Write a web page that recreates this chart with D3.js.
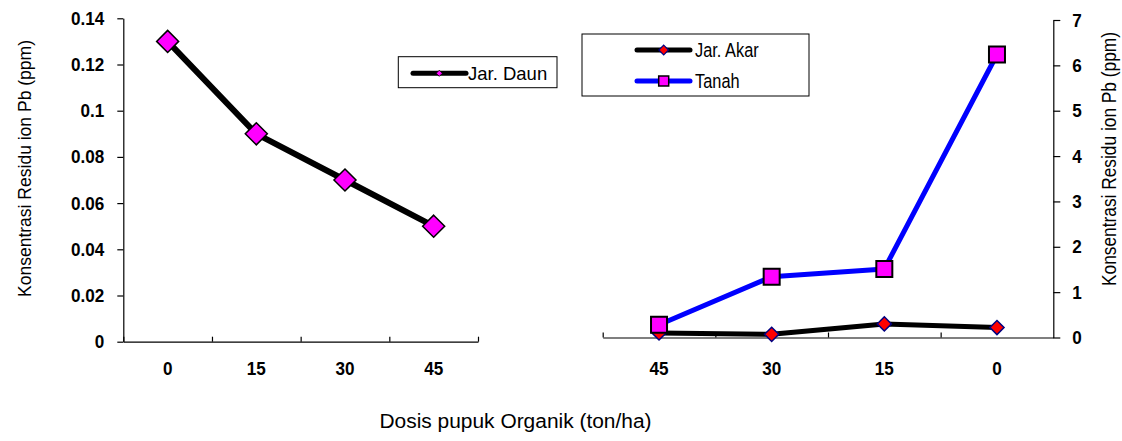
<!DOCTYPE html>
<html lang="en">
<head>
<meta charset="UTF-8">
<title>Residu ion Pb</title>
<script src="https://cdn.jsdelivr.net/npm/d3@7"></script>
<style>
    body { margin: 0; background: #fff; }
    svg text { fill: #000; }
    .tick-lbl text { font-family: "Liberation Sans", Arial, sans-serif; font-weight: bold; font-size: 19px; }
    .domain, .tick line { stroke: #000; stroke-width: 1.2; }
</style>
</head>
<body>
<div id="chart"></div>
<script>
    // data
    var dosisLeft = ["0", "15", "30", "45"];
    var jarDaun = [0.13, 0.09, 0.07, 0.05];

    var dosisRight = ["45", "30", "15", "0"];
    var jarAkar = [0.10, 0.07, 0.30, 0.22];
    var tanah = [0.28, 1.34, 1.51, 6.24];

    var ticksLeft = [0, 0.02, 0.04, 0.06, 0.08, 0.1, 0.12, 0.14];
    var ticksRight = [0, 1, 2, 3, 4, 5, 6, 7];

    var width = 1122, height = 441;
    var narrow = 0.9; // the original uses a condensed face; squeeze the labels
    var svg = d3.select("#chart").append("svg")
        .attr("width", width).attr("height", height);

    var diamond = d3.symbol().type(d3.symbolDiamond2);
    var square = d3.symbol().type(d3.symbolSquare);

    function squeeze(sel, x) {
        sel.selectAll(".tick text")
            .attr("x", x / narrow)
            .attr("transform", "scale(" + narrow + ",1)");
    }

    // ---------- left panel ----------
    var xL = d3.scaleBand().domain(dosisLeft).range([123.3, 478]);
    var yL = d3.scaleLinear().domain([0, 0.14]).range([341.7, 18.3]);

    var axL = svg.append("g").attr("transform", "translate(123.3,0)")
        .attr("class", "tick-lbl")
        .call(d3.axisLeft(yL).tickValues(ticksLeft).tickSize(6).tickSizeOuter(0).tickPadding(13)
            .tickFormat(function (d) { return d === 0 ? "0" : String(+d.toFixed(2)); }));
    squeeze(axL, -19);

    // band boundary ticks, pointing up
    svg.append("g").attr("transform", "translate(0,341.7)")
        .call(d3.axisTop(d3.scaleLinear().domain([0, 4]).range(xL.range()))
            .ticks(4).tickSize(5).tickSizeOuter(0).tickFormat(""));

    var lblL = svg.append("g").attr("class", "tick-lbl").attr("transform", "translate(0,341.7)")
        .call(d3.axisBottom(xL).tickSize(0).tickPadding(20));
    lblL.select(".domain").remove();
    squeeze(lblL, 0);

    var lineL = d3.line()
        .x(function (d, i) { return xL(dosisLeft[i]) + xL.bandwidth() / 2; })
        .y(function (d) { return yL(d); });

    svg.append("path").datum(jarDaun)
        .attr("d", lineL).attr("fill", "none")
        .attr("stroke", "#000").attr("stroke-width", 6).attr("stroke-linejoin", "round");

    svg.selectAll(".mk-daun").data(jarDaun).enter().append("path")
        .attr("class", "mk-daun")
        .attr("transform", function (d, i) { return "translate(" + (xL(dosisLeft[i]) + xL.bandwidth() / 2) + "," + yL(d) + ")"; })
        .attr("d", diamond.size(310))
        .attr("fill", "#ff00ff").attr("stroke", "#000").attr("stroke-width", 1.5);

    // left legend
    var legL = svg.append("g");
    legL.append("rect").attr("x", 398.3).attr("y", 56.7).attr("width", 158.7).attr("height", 31)
        .attr("fill", "#fff").attr("stroke", "#000").attr("stroke-width", 1);
    legL.append("line").attr("x1", 413).attr("x2", 466).attr("y1", 73.3).attr("y2", 73.3)
        .attr("stroke", "#000").attr("stroke-width", 5).attr("stroke-linecap", "round");
    legL.append("path").attr("transform", "translate(439.3,73.3)")
        .attr("d", diamond.size(24)).attr("fill", "#ff00ff").attr("stroke", "#000").attr("stroke-width", 0.8);
    legL.append("text").attr("x", 468).attr("y", 73.3).attr("dy", "0.36em")
        .style("font-family", "'Liberation Sans', Arial, sans-serif").style("font-size", "18.5px")
        .text("Jar. Daun");

    // ---------- right panel ----------
    var xR = d3.scaleBand().domain(dosisRight).range([602.7, 1053.3]);
    var yR = d3.scaleLinear().domain([0, 7]).range([337.5, 20]);

    var axR = svg.append("g").attr("transform", "translate(1053.3,0)")
        .attr("class", "tick-lbl")
        .call(d3.axisRight(yR).tickValues(ticksRight).tickSize(7).tickSizeOuter(0).tickPadding(12)
            .tickFormat(d3.format("d")));
    squeeze(axR, 19);

    svg.append("g").attr("transform", "translate(0,337.5)")
        .call(d3.axisTop(d3.scaleLinear().domain([0, 4]).range(xR.range()))
            .tickValues([0, 1, 2, 3]).tickSize(5).tickSizeOuter(0).tickFormat(""));

    var lblR = svg.append("g").attr("class", "tick-lbl").attr("transform", "translate(0,337.5)")
        .call(d3.axisBottom(xR).tickSize(0).tickPadding(24));
    lblR.select(".domain").remove();
    squeeze(lblR, 0);

    function cx(i) { return xR(dosisRight[i]) + xR.bandwidth() / 2; }
    var lineR = d3.line()
        .x(function (d, i) { return cx(i); })
        .y(function (d) { return yR(d); });

    svg.append("path").datum(jarAkar)
        .attr("d", lineR).attr("fill", "none")
        .attr("stroke", "#000").attr("stroke-width", 5).attr("stroke-linejoin", "round");

    svg.append("path").datum(tanah)
        .attr("d", lineR).attr("fill", "none")
        .attr("stroke", "#0000ff").attr("stroke-width", 5).attr("stroke-linejoin", "round");

    svg.selectAll(".mk-akar").data(jarAkar).enter().append("path")
        .attr("class", "mk-akar")
        .attr("transform", function (d, i) { return "translate(" + cx(i) + "," + yR(d) + ")"; })
        .attr("d", diamond.size(128))
        .attr("fill", "#ff0000").attr("stroke", "#000080").attr("stroke-width", 1.5);

    svg.selectAll(".mk-tanah").data(tanah).enter().append("path")
        .attr("class", "mk-tanah")
        .attr("transform", function (d, i) { return "translate(" + cx(i) + "," + yR(d) + ")"; })
        .attr("d", square.size(256))
        .attr("fill", "#ff00ff").attr("stroke", "#000").attr("stroke-width", 2);

    // right legend
    var legR = svg.append("g");
    legR.append("rect").attr("x", 582).attr("y", 34).attr("width", 227).attr("height", 62)
        .attr("fill", "#fff").attr("stroke", "#000").attr("stroke-width", 1);
    var legItems = [
        { name: "Jar. Akar", color: "#000", y: 50 },
        { name: "Tanah", color: "#0000ff", y: 81 }
    ];
    legItems.forEach(function (it, k) {
        legR.append("line").attr("x1", 637).attr("x2", 690).attr("y1", it.y).attr("y2", it.y)
            .attr("stroke", it.color).attr("stroke-width", 5).attr("stroke-linecap", "round");
        var m = legR.append("path").attr("transform", "translate(663.7," + it.y + ")");
        if (k === 0) {
            m.attr("d", diamond.size(60)).attr("fill", "#ff0000").attr("stroke", "#000080").attr("stroke-width", 1.2);
        } else {
            m.attr("d", square.size(100)).attr("fill", "#ff00ff").attr("stroke", "#000").attr("stroke-width", 1.5);
        }
        legR.append("text")
            .attr("transform", "translate(695," + it.y + ")scale(0.84,1)")
            .attr("dy", "0.36em")
            .style("font-family", "'Liberation Sans', Arial, sans-serif").style("font-size", "19.5px")
            .text(it.name);
    });

    // ---------- titles ----------
    var titleFont = "'Liberation Sans', Arial, sans-serif";
    svg.append("text")
        .attr("transform", "translate(31,168.5)rotate(-90)")
        .attr("text-anchor", "middle")
        .attr("textLength", 257).attr("lengthAdjust", "spacingAndGlyphs")
        .style("font-family", titleFont).style("font-size", "19px")
        .text("Konsentrasi Residu ion Pb (ppm)");

    svg.append("text")
        .attr("transform", "translate(1116,159)rotate(-90)")
        .attr("text-anchor", "middle")
        .attr("textLength", 254).attr("lengthAdjust", "spacingAndGlyphs")
        .style("font-family", titleFont).style("font-size", "19.5px")
        .text("Konsentrasi Residu ion Pb (ppm)");

    svg.append("text")
        .attr("x", 515.5).attr("y", 428)
        .attr("text-anchor", "middle")
        .attr("textLength", 272).attr("lengthAdjust", "spacingAndGlyphs")
        .style("font-family", titleFont).style("font-size", "20px")
        .text("Dosis pupuk Organik (ton/ha)");
</script>
</body>
</html>
